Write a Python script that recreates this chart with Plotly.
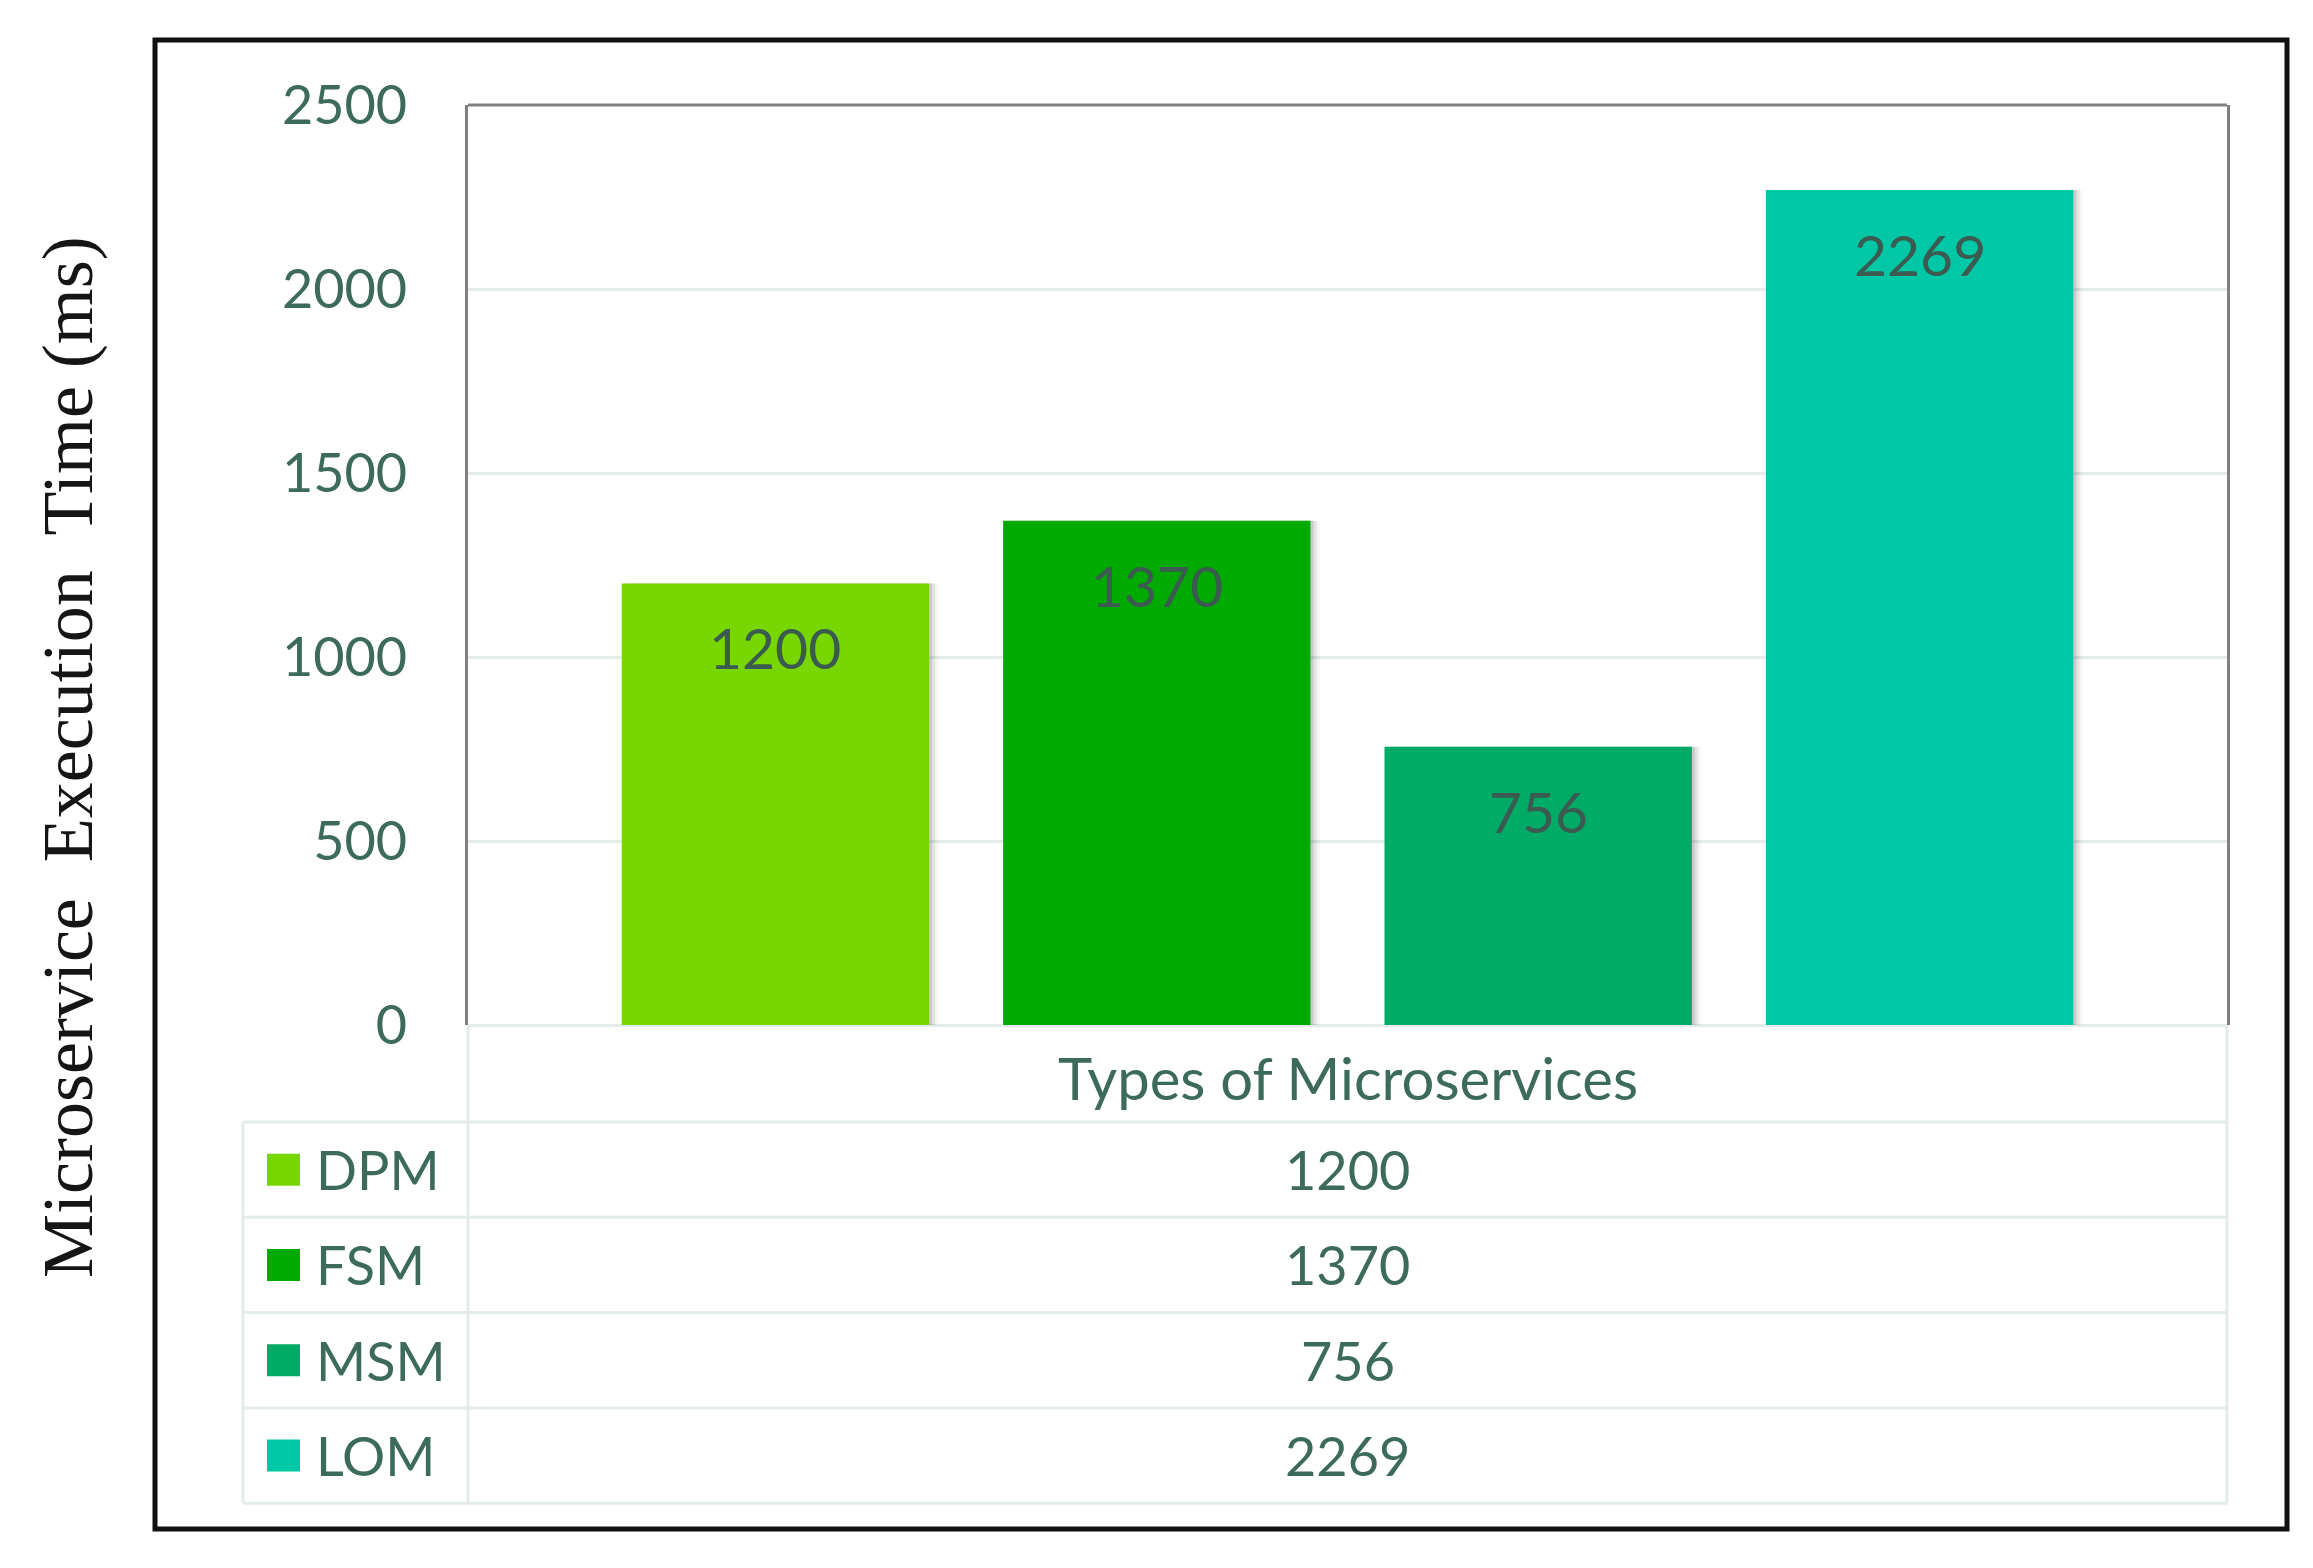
import plotly.graph_objects as go

# ---- data ----
categories = ["DPM", "FSM", "MSM", "LOM"]
exec_time_ms = [1200, 1370, 756, 2269]
bar_colors = ["#78d700", "#00aa00", "#00ab67", "#00c8a6"]
y_ticks = [0, 500, 1000, 1500, 2000, 2500]
x_axis_label = "Types of Microservices"
y_axis_label = "Microservice\u00a0 Execution\u00a0 Time (ms)"

# ---- layout geometry (pixels) ----
W, H = 2313, 1568
L, R, T, B = 468, 86, 105, 543
PW = W - L - R
PH = H - T - B


def fx(p):
    return (p - L) / PW


def fy(p):
    return (H - B - p) / PH


TEXT = "#3d6b5a"
LABEL = "#3b5a50"
GRID = "#e3ecea"
FONT = "Lato"
FS = 54

fig = go.Figure()

# soft shadow behind bars
for k, a in enumerate([0.10, 0.07, 0.04]):
    fig.add_trace(go.Bar(
        x=categories, y=exec_time_ms, width=0.806, offset=-0.403 + 0.008 * (k + 1),
        marker=dict(color=f"rgba(0,0,0,{a})", line=dict(width=0)),
        hoverinfo="skip", showlegend=False,
    ))
fig.add_trace(go.Bar(
    x=categories, y=exec_time_ms, width=0.806, offset=-0.403,
    marker=dict(color=bar_colors, line=dict(width=0)),
    showlegend=False,
))

annotations = []
# data labels inside bars
for c, v in zip(categories, exec_time_ms):
    annotations.append(dict(
        x=c, y=v, xref="x", yref="y", text=str(v), showarrow=False,
        yshift=-64, yanchor="middle", xanchor="center",
        font=dict(family=FONT, size=57, color=LABEL),
    ))

# category axis label
annotations.append(dict(
    x=0.5, y=fy(1077), xref="paper", yref="paper", text=x_axis_label,
    showarrow=False, xanchor="center", yanchor="middle",
    font=dict(family=FONT, size=58, color=TEXT),
))

# y axis title
annotations.append(dict(
    x=fx(68), y=fy(757), xref="paper", yref="paper", text=y_axis_label,
    showarrow=False, textangle=-90, xanchor="center", yanchor="middle",
    font=dict(family="Liberation Serif", size=72, color="#151515"),
))

shapes = []
# outer frame
shapes.append(dict(type="rect", xref="paper", yref="paper",
                   x0=fx(155), x1=fx(2287), y0=fy(1529), y1=fy(40),
                   line=dict(color="#111111", width=5), layer="above"))
# top border of plot area
shapes.append(dict(type="line", xref="paper", yref="paper",
                   x0=0, x1=1, y0=1, y1=1,
                   line=dict(color="#808080", width=3)))

# data table
table_left, table_top, row_h = 243, 1122, 95.3
n = len(categories)
row_lines = [table_top + i * row_h for i in range(n + 1)]
for yl in row_lines:
    shapes.append(dict(type="line", xref="paper", yref="paper",
                       x0=fx(table_left), x1=1, y0=fy(yl), y1=fy(yl),
                       line=dict(color=GRID, width=3)))
# vertical lines
shapes.append(dict(type="line", xref="paper", yref="paper",
                   x0=fx(table_left), x1=fx(table_left),
                   y0=fy(row_lines[0]), y1=fy(row_lines[-1]),
                   line=dict(color=GRID, width=3)))
for xv in (0, 1):
    shapes.append(dict(type="line", xref="paper", yref="paper",
                       x0=xv, x1=xv, y0=0, y1=fy(row_lines[-1]),
                       line=dict(color=GRID, width=3)))

for i, (c, v, col) in enumerate(zip(categories, exec_time_ms, bar_colors)):
    yc = table_top + (i + 0.5) * row_h
    shapes.append(dict(type="rect", xref="paper", yref="paper",
                       x0=fx(267), x1=fx(300), y0=fy(yc + 16), y1=fy(yc - 16),
                       fillcolor=col, line=dict(width=0)))
    annotations.append(dict(
        x=fx(314), y=fy(yc), xref="paper", yref="paper", text=c,
        showarrow=False, xanchor="left", yanchor="middle",
        font=dict(family=FONT, size=FS, color=TEXT),
    ))
    annotations.append(dict(
        x=0.5, y=fy(yc), xref="paper", yref="paper", text=str(v),
        showarrow=False, xanchor="center", yanchor="middle",
        font=dict(family=FONT, size=FS, color=TEXT),
    ))

fig.update_layout(
    width=W, height=H,
    margin=dict(l=L, r=R, t=T, b=B, autoexpand=False),
    paper_bgcolor="white", plot_bgcolor="white",
    barmode="overlay",
    showlegend=False,
    annotations=annotations,
    shapes=shapes,
    xaxis=dict(
        type="category", categoryorder="array", categoryarray=categories,
        range=[-0.806, 3.806], showticklabels=False, showgrid=False,
        showline=False, zeroline=False, ticks="",
    ),
    yaxis=dict(
        range=[0, 2500], tickvals=y_ticks, ticktext=[str(t) for t in y_ticks],
        showgrid=True, gridcolor=GRID, gridwidth=3,
        zeroline=True, zerolinecolor=GRID, zerolinewidth=3,
        showline=True, mirror=True, linecolor="#808080", linewidth=3,
        ticks="", ticklabelstandoff=47,
        tickfont=dict(family=FONT, size=FS, color=TEXT),
    ),
)

fig.write_html(
    "out.html",
    config={"displayModeBar": False},
    post_script="document.body.style.margin='0';document.body.style.overflow='hidden';",
)
